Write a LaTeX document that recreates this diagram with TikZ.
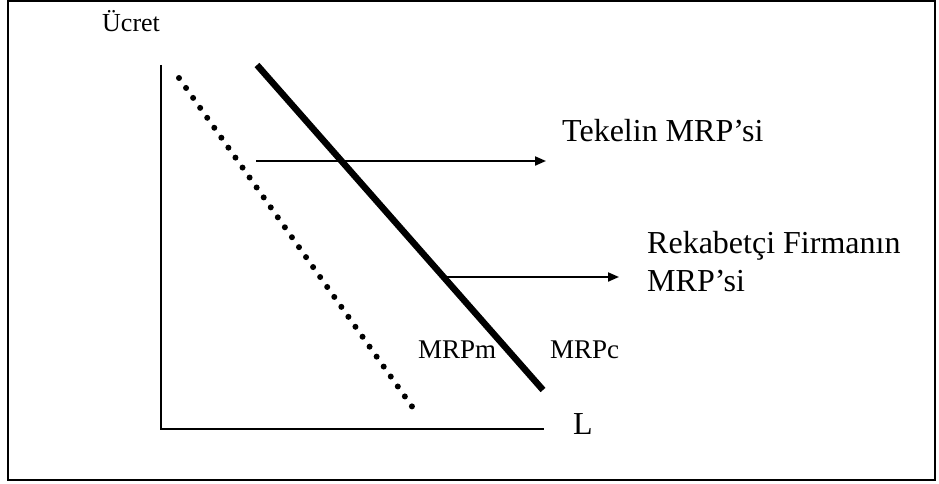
\documentclass[tikz,border=0pt]{standalone}
\usepackage{fontspec}
\setmainfont{Liberation Serif}
\usetikzlibrary{arrows.meta}
\begin{document}
\begin{tikzpicture}[x=1pt,y=-1pt,
  lbl/.style={inner sep=0pt,anchor=base west,font=\fontsize{32}{38}\selectfont},
  smalllbl/.style={inner sep=0pt,anchor=base west,font=\fontsize{27}{32}\selectfont},
  axisline/.style={line width=2.5pt},
  pointer/.style={line width=2pt,-{Triangle[length=11pt,width=9pt]}},
  curvec/.style={line width=6.5pt},
  curvem/.style={line width=6pt,line cap=round,dash pattern=on 0pt off 12.2pt}]
\useasboundingbox (0,0) rectangle (939,484);
\draw[line width=1.5pt] (8,1) rectangle (935,480);
% axes
\coordinate (ytop) at (161,65);
\coordinate (origin) at (161,429);
\coordinate (xend) at (544,429);
\draw[axisline] (ytop) -- (origin) -- (xend);
\node[smalllbl,font=\fontsize{26}{30}\selectfont] (ucret) at (102,32) {Ücret};
\node[lbl] (L) at (573,434) {L};
% curves
\coordinate (m1) at (179,78);
\coordinate (m2) at (415.7,411.7);
\draw[curvem] (m1) -- (m2);
\coordinate (c1) at (257,65);
\coordinate (c2) at (543,390);
\draw[curvec] (c1) -- (c2);
\node[smalllbl] (mrpm) at (418,358) {MRPm};
\node[smalllbl] (mrpc) at (550,358) {MRPc};
% labels and pointers
\node[lbl] (tekel) at (562,142) {Tekelin MRP’si};
\node[lbl,align=left] (rekab) at (647,291) {Rekabetçi Firmanın\\MRP’si};
\coordinate (a1) at (256,161);
\coordinate (a1e) at (546,161);
\draw[pointer] (a1) -- (a1e);
\coordinate (a2) at (445,277);
\coordinate (a2e) at (619,277);
\draw[pointer] (a2) -- (a2e);
\end{tikzpicture}
\end{document}
